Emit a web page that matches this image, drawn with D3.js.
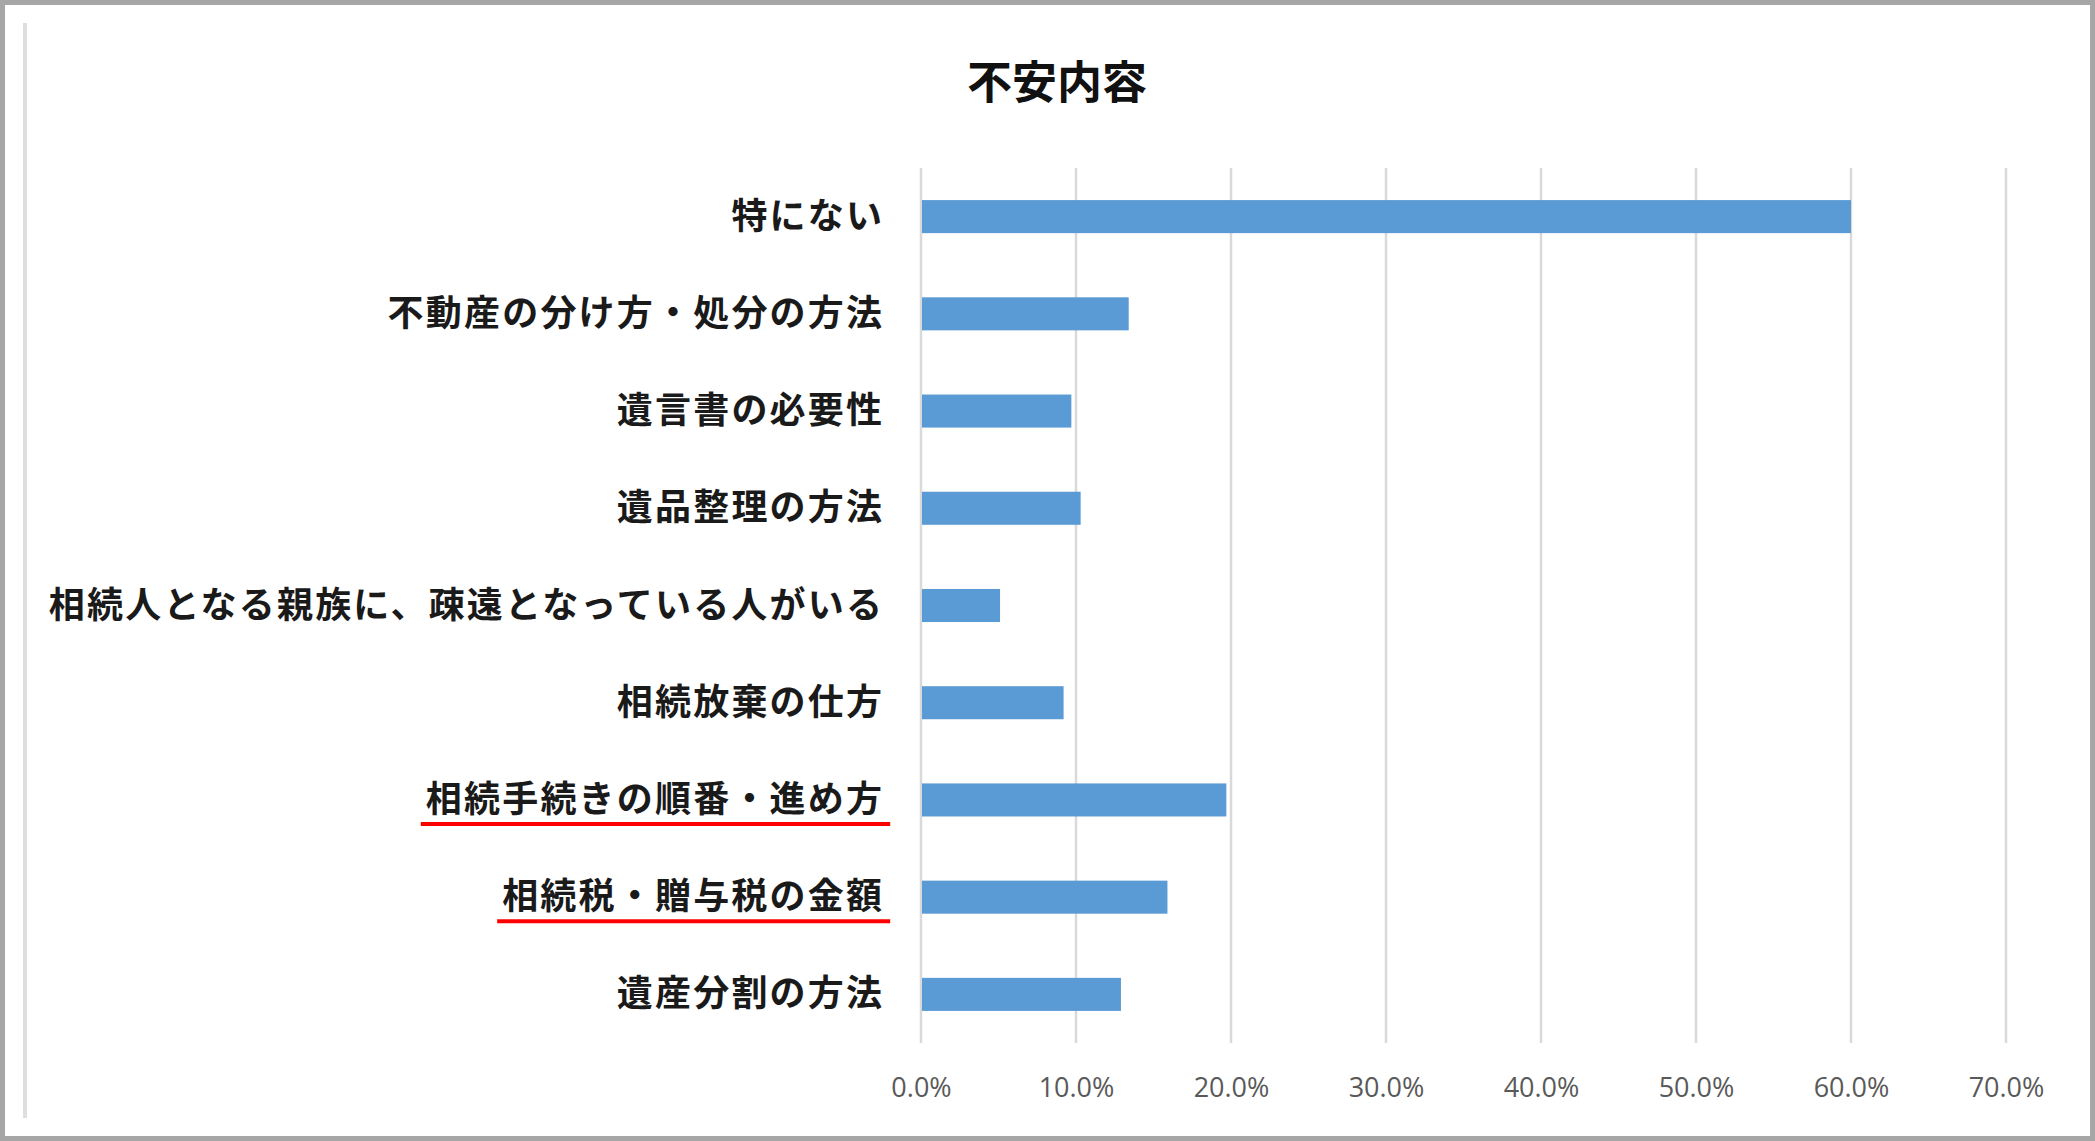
<!DOCTYPE html>
<html>
<head>
<meta charset="utf-8">
<script src="https://cdn.jsdelivr.net/npm/d3@7"></script>
<style>
  html, body { margin: 0; padding: 0; background: #fff; }
  svg { display: block; }
</style>
</head>
<body>
<svg id="chart" width="2095" height="1141"></svg>
<script>
const title = "不安内容";
const categories = [
  "特にない",
  "不動産の分け方・処分の方法",
  "遺言書の必要性",
  "遺品整理の方法",
  "相続人となる親族に、疎遠となっている人がいる",
  "相続放棄の仕方",
  "相続手続きの順番・進め方",
  "相続税・贈与税の金額",
  "遺産分割の方法"
];
const values = [60.0, 13.4, 9.7, 10.3, 5.1, 9.2, 19.7, 15.9, 12.9];
const tickValues = [0, 10, 20, 30, 40, 50, 60, 70];
const highlighted = ["相続手続きの順番・進め方", "相続税・贈与税の金額"];

const W = 2095, H = 1141;
const svg = d3.select("#chart");

// frame
svg.append("rect").attr("x", 2.5).attr("y", 2.5).attr("width", W - 5).attr("height", H - 5)
  .attr("fill", "#fff").attr("stroke", "#a6a6a6").attr("stroke-width", 5);
svg.append("line").attr("x1", 25).attr("x2", 25).attr("y1", 23).attr("y2", 1118)
  .attr("stroke", "#dedede").attr("stroke-width", 4);

const plot = { left: 921, right: 2006, top: 168, bottom: 1043 };

const x = d3.scaleLinear().domain([0, 70]).range([plot.left, plot.right]);
const y = d3.scaleBand().domain(categories).range([plot.top, plot.bottom]).paddingInner(0.66).paddingOuter(0.33);

// title
svg.append("text").attr("x", 1057).attr("y", 79).attr("text-anchor", "middle")
  .attr("dominant-baseline", "central")
  .attr("font-family", "'Noto Sans CJK JP', sans-serif").attr("font-weight", 700)
  .attr("font-size", 45).attr("fill", "#111").text(title);

// gridlines
svg.append("g").selectAll("line").data(tickValues).join("line")
  .attr("x1", d => x(d)).attr("x2", d => x(d))
  .attr("y1", plot.top).attr("y2", plot.bottom)
  .attr("stroke", "#d9d9d9").attr("stroke-width", 2.5);

// bars
svg.append("g").selectAll("rect").data(categories).join("rect")
  .attr("x", x(0) + 1)
  .attr("y", d => y(d))
  .attr("width", (d, i) => x(values[i]) - x(0) - 1)
  .attr("height", y.bandwidth())
  .attr("fill", "#5b9bd5");

// x axis labels
const xAxis = d3.axisBottom(x).tickValues(tickValues).tickSize(0).tickPadding(0)
  .tickFormat(d => d3.format(".1f")(d) + "%");
const gx = svg.append("g").attr("transform", `translate(0, 1078)`).call(xAxis);
gx.select(".domain").remove();
gx.selectAll("text").attr("font-family", "'Open Sans', sans-serif").attr("font-size", 27)
  .attr("fill", "#595959").attr("dy", "0.71em");

// category labels
const labelRight = 882;
const yc = d => y(d) + y.bandwidth() / 2;
const labels = svg.append("g").selectAll("text").data(categories).join("text")
  .attr("x", labelRight + 2.2).attr("y", d => yc(d) - 4)
  .attr("text-anchor", "end").attr("dominant-baseline", "central")
  .attr("font-family", "'Noto Sans CJK JP', sans-serif").attr("font-weight", 700)
  .attr("font-size", 36).attr("letter-spacing", 2.2)
  .attr("fill", "#1a1a1a").text(d => d);

// red underlines for highlighted labels
labels.filter(d => highlighted.includes(d)).each(function(d) {
  const bb = this.getBBox();
  svg.append("line")
    .attr("x1", bb.x - 5).attr("x2", bb.x + bb.width + 6)
    .attr("y1", yc(d) + 24).attr("y2", yc(d) + 24)
    .attr("stroke", "#ff0000").attr("stroke-width", 4);
});
</script>
</body>
</html>
